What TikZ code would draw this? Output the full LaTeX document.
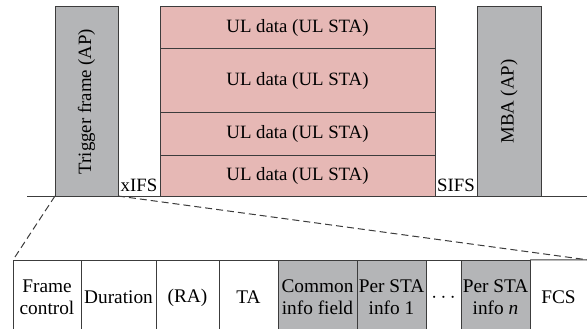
\documentclass[tikz,border=0pt]{standalone}
\usepackage{fontspec}
\setmainfont{Liberation Serif}
\definecolor{linec}{HTML}{3C3C3C}
\definecolor{grayfill}{HTML}{B4B5B7}
\definecolor{pinkfill}{HTML}{E6B8B5}
\begin{document}
\begin{tikzpicture}[x=1pt,y=-1pt,
  txt/.style={font=\fontsize{18.8}{22}\selectfont},
  btxt/.style={font=\fontsize{19.3}{22}\selectfont},
  frm/.style={draw=linec,line width=1pt,inner sep=0pt,outer sep=0pt,anchor=center,txt},
  apbox/.style={frm,fill=grayfill},
  ulbox/.style={frm,fill=pinkfill},
  cell/.style={frm,fill=white,align=center,btxt,minimum height=75},
  gcell/.style={cell,fill=grayfill},
  gap/.style={fill=white,inner sep=1pt,txt},
  dsh/.style={draw=linec,line width=1pt,dash pattern=on 7pt off 4pt}]
\useasboundingbox (0,0) rectangle (587,329);
% time axis
\coordinate (axl) at (27,196);
\coordinate (axr) at (587,196);
\draw[linec,line width=0.9pt] (axl) -- (axr);
% top frames
\node[apbox,minimum width=63,minimum height=189] (tf) at (86.5,101.5) {};
\node[txt,rotate=90] (tft) at (tf.center) {Trigger frame (AP)};
\node[ulbox,minimum width=275,minimum height=42] (ul1) at (297.5,28) {UL data (UL STA)};
\node[ulbox,minimum width=275,minimum height=64] (ul2) at (297.5,81) {UL data (UL STA)};
\node[ulbox,minimum width=275,minimum height=42] (ul3) at (297.5,134) {UL data (UL STA)};
\node[ulbox,minimum width=275,minimum height=41] (ul4) at (297.5,175.5) {UL data (UL STA)};
\node[apbox,minimum width=64,minimum height=189] (mba) at (509,101.5) {};
\node[txt,rotate=90] (mbat) at (mba.center) {MBA (AP)};
\node[gap,anchor=base] (xifs) at (139,191.5) {xIFS};
\node[gap,anchor=base] (sifs) at (456,191.5) {SIFS};
% bottom fields
\node[cell,minimum width=68] (fc) at (47,297.5) {Frame\\control};
\node[cell,minimum width=75] (dur) at (118.5,297.5) {Duration};
\node[cell,minimum width=63] (ra) at (187.5,297.5) {(RA)};
\node[cell,minimum width=59] (ta) at (248.5,297.5) {TA};
\node[gcell,minimum width=79] (cif) at (317.5,297.5) {Common\\info field};
\node[gcell,minimum width=69] (ps1) at (391.5,297.5) {Per STA\\info 1};
\node[cell,minimum width=35] (dots) at (443.5,297.5) {$\cdots$};
\node[gcell,minimum width=69] (psn) at (495.5,297.5) {Per STA\\info \textit{n}};
\node[btxt,inner sep=0pt,minimum width=57,minimum height=75,anchor=center] (fcs) at (558.5,297.5) {FCS};
\draw[linec,line width=1pt] (psn.north east) -- (fcs.north east);
% zoom lines
\draw[dsh] (tf.south west) -- (fc.north west);
\draw[dsh] (tf.south east) -- (fcs.north east);
\end{tikzpicture}
\end{document}
